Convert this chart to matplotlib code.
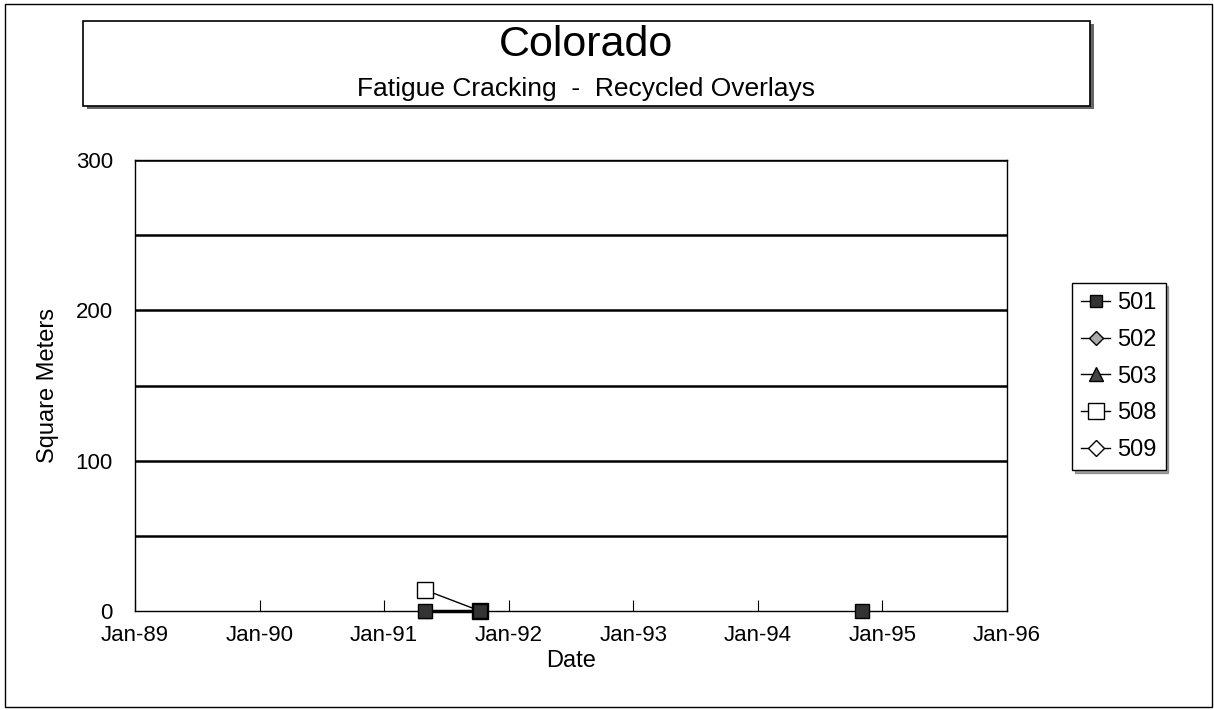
import datetime as dt
import matplotlib
matplotlib.use("Agg")
import matplotlib.pyplot as plt
import matplotlib.dates as mdates
from matplotlib.patches import Rectangle

plt.rcParams['font.family'] = ['Liberation Sans', 'DejaVu Sans']

# Data
sections = ['501', '502', '503', '508', '509']
dates_501 = [dt.date(1991, 5, 1), dt.date(1991, 10, 10), dt.date(1994, 11, 1)]
vals_501 = [0, 0, 0]
dates_502 = []
vals_502 = []
dates_503 = [dt.date(1991, 5, 1)]
vals_503 = [0]
dates_508 = [dt.date(1991, 5, 1), dt.date(1991, 10, 10)]
vals_508 = [14, 0]
dates_509 = []
vals_509 = []

xtick_years = list(range(1989, 1997))
yticks = [0, 100, 200, 300]

fig = plt.figure(figsize=(12.14, 7.10), dpi=100)

# outer frame
fig.patches.append(Rectangle((0.004, 0.004), 0.994, 0.99, transform=fig.transFigure,
                             fill=False, lw=1.0, ec='black'))

# title box with shadow
fig.patches.append(Rectangle((0.0717, 0.846), 0.8295, 0.12, transform=fig.transFigure,
                             fc='#666666', ec='none'))
fig.patches.append(Rectangle((0.0684, 0.851), 0.8295, 0.12, transform=fig.transFigure,
                             fc='white', ec='black', lw=1.2))
fig.text(0.483, 0.936, 'Colorado', ha='center', va='center', fontsize=31)
fig.text(0.483, 0.874, 'Fatigue Cracking  -  Recycled Overlays', ha='center',
         va='center', fontsize=19)

ax = fig.add_axes([0.1112, 0.1394, 0.7183, 0.635])
ax.set_xlim(dt.date(1989, 1, 1), dt.date(1996, 1, 1))
ax.set_ylim(0, 300)

for y in range(50, 301, 50):
    ax.axhline(y, color='black', lw=1.8, zorder=1)

# 501: first two surveys joined, the last one stands alone
ax.plot(dates_501[:2], vals_501[:2], color='black', lw=2.5, zorder=4, clip_on=False)
ax.plot(dates_501, vals_501, ls='none', marker='s', ms=10,
        mfc='#333333', mec='black', zorder=5, clip_on=False)
ax.plot([], [], color='black', lw=1, marker='s', ms=9, mfc='#333333', mec='black',
        label=sections[0])
ax.plot(dates_502, vals_502, color='black', lw=1, marker='D', ms=7,
        mfc='#aaaaaa', mec='black', label=sections[1], zorder=3)
ax.plot(dates_503, vals_503, color='black', lw=1, marker='^', ms=10,
        mfc='#444444', mec='black', label=sections[2], zorder=3, clip_on=False)
ax.plot(dates_508, vals_508, color='black', lw=1, marker='s', ms=11,
        mfc='white', mec='black', label=sections[3], zorder=3, clip_on=False)
ax.plot(dates_509, vals_509, color='black', lw=1, marker='D', ms=8,
        mfc='white', mec='black', label=sections[4], zorder=3)

ax.set_xticks([dt.date(y, 1, 1) for y in xtick_years])
ax.xaxis.set_major_formatter(mdates.DateFormatter('%b-%y'))
ax.set_yticks(yticks)
ax.tick_params(axis='x', labelsize=16, direction='in', length=8, pad=10)
ax.tick_params(axis='y', labelsize=16, length=0, pad=16)
for s in ax.spines.values():
    s.set_linewidth(1.0)
ax.set_xlabel('Date', fontsize=17, labelpad=3)
ax.set_ylabel('Square Meters', fontsize=17, labelpad=12)

leg = ax.legend(loc='center left', bbox_to_anchor=(1.061, 0.52), fontsize=17,
                frameon=True, fancybox=False, edgecolor='black', handlelength=1.2,
                handletextpad=0.3, labelspacing=0.62, borderpad=0.4, shadow=True)
leg.get_frame().set_linewidth(1.0)

fig.savefig('out.png', dpi=100)
